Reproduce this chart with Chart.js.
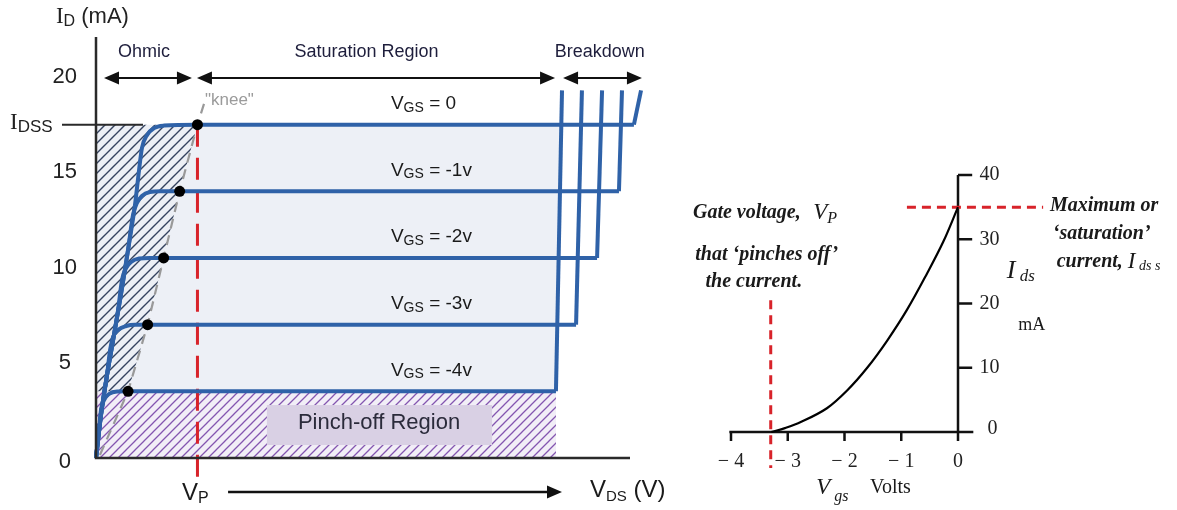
<!DOCTYPE html>
<html>
<head>
<meta charset="utf-8">
<title>JFET characteristics</title>
<script src="https://cdn.jsdelivr.net/npm/chart.js@4.4.1/dist/chart.umd.min.js"></script>
<style>
  html, body { margin: 0; padding: 0; background: #fff; }
  #wrap { position: relative; width: 1177px; height: 510px; overflow: hidden; }
  #drain    { position: absolute; left: 0;     top: 0; }
  #transfer { position: absolute; left: 680px; top: 0; }
</style>
</head>
<body>
<div id="wrap">
  <canvas id="drain" width="680" height="510"></canvas>
  <canvas id="transfer" width="497" height="510"></canvas>
</div>
<script>
// ---- drain characteristics (left): V_DS in volts, I_D in mA ----
const idTicks   = [0, 5, 10, 15, 20];
const vgsNames  = ['0', '-1v', '-2v', '-3v', '-4v'];
const satLevels = [17.5, 14, 10.5, 7, 3.5];
const kneeX     = [5.7, 4.7, 3.8, 2.9, 1.8];
const breakX    = [30.22, 29.38, 28.15, 26.97, 25.84];
const breakTopX = [30.62, 29.55, 28.43, 27.3, 26.18];
const breakTopY = 19.3;
const IDSS = 17.5;
const VP   = 5.7;

// rising (ohmic) part of each curve, [V_DS, I_D]
const ohmicPts = [
    [[0,0],[0.28,2.26],[0.62,4.36],[0.96,6.19],[1.35,8.29],[1.80,10.92],[2.19,13.28],[2.42,15.12],[2.58,16.27],[2.87,16.96],[3.26,17.32],[3.82,17.45]],
    [[0,0],[0.28,2.26],[0.62,4.36],[0.96,6.19],[1.35,8.29],[1.80,10.92],[2.08,12.76],[2.30,13.39],[2.58,13.75],[3.03,13.96],[3.6,14.0]],
    [[0,0],[0.28,2.26],[0.62,4.36],[0.96,6.19],[1.24,7.77],[1.46,9.34],[1.69,9.97],[1.97,10.29],[2.42,10.47],[3.03,10.5]],
    [[0,0],[0.28,2.26],[0.62,4.36],[0.79,5.67],[0.96,6.35],[1.24,6.72],[1.69,6.93],[2.19,7.0]],
    [[0,0],[0.17,1.47],[0.28,2.52],[0.45,3.04],[0.73,3.36],[1.18,3.49]]
];

// dashed line through the knee dots
const kneeLineX = [0.22, 1.8, 2.9, 3.8, 4.7, 5.7, 6.07];
const kneeLineY = [0.16, 3.5, 7, 10.5, 14, 17.5, 18.6];

// ---- transfer characteristic (right): V_gs in volts, I_ds in mA ----
const vgsVals       = [-3.29, -3.05, -2.78, -2.31, -1.95, -1.60, -1.25, -0.90, -0.55, -0.26, 0];
const idsVals       = [0, 0.6, 1.5, 3.7, 6.5, 10.0, 14.2, 19.0, 24.6, 29.6, 35];
const vgsTicks      = [-4, -3, -2, -1, 0];
const vgsTickLabels = ['\u2212 4', '\u2212 3', '\u2212 2', '\u2212 1', '0'];
const idsTicks      = [0, 10, 20, 30, 40];
const IDSS_R = 35;
const VP_R   = -3.3;

const SANS  = "'Liberation Sans', Arial, sans-serif";
const SERIF = "'Liberation Serif', 'Times New Roman', serif";
const BLUE  = '#2f62a8';
const RED   = '#d8232a';

function hatch(bg, fg, size, lw) {
    const c = document.createElement('canvas');
    c.width = c.height = size;
    const g = c.getContext('2d');
    g.fillStyle = bg;
    g.fillRect(0, 0, size, size);
    g.strokeStyle = fg;
    g.lineWidth = lw;
    g.beginPath();
    g.moveTo(-1, size + 1); g.lineTo(size + 1, -1);
    g.moveTo(-1, 1);        g.lineTo(1, -1);
    g.moveTo(size - 1, size + 1); g.lineTo(size + 1, size - 1);
    g.stroke();
    return g.createPattern(c, 'repeat');
}

// text made of runs: [text, font, dy]
function txt(ctx, x, y, parts, align) {
    ctx.textBaseline = 'middle';
    ctx.textAlign = 'left';
    let w = 0;
    parts.forEach(p => { ctx.font = p[1]; w += ctx.measureText(p[0]).width; });
    let cx = align === 'center' ? x - w / 2 : align === 'right' ? x - w : x;
    parts.forEach(p => {
        ctx.font = p[1];
        ctx.fillText(p[0], cx, y + (p[2] || 0));
        cx += ctx.measureText(p[0]).width;
    });
}

function head(ctx, x, y, dir) {
    ctx.beginPath();
    ctx.moveTo(x, y);
    ctx.lineTo(x - dir * 15, y - 6.5);
    ctx.lineTo(x - dir * 15, y + 6.5);
    ctx.closePath();
    ctx.fill();
}

function arrow(ctx, x1, x2, y, both) {
    ctx.beginPath();
    ctx.moveTo(both ? x1 + 10 : x1, y);
    ctx.lineTo(x2 - 10, y);
    ctx.stroke();
    head(ctx, x2, y, 1);
    if (both) head(ctx, x1, y, -1);
}

const line = (data, color, width, dash, order) => ({
    data, borderColor: color, borderWidth: width, borderDash: dash || [],
    pointRadius: 0, fill: false, clip: false, tension: 0, order
});
const smooth = (data, color, width, order) =>
    Object.assign(line(data, color, width, [], order), {cubicInterpolationMode: 'monotone'});
const area = (data, fillStyle, order) => ({
    data, fill: 'shape', backgroundColor: fillStyle, borderColor: 'rgba(0,0,0,0)',
    borderWidth: 1, pointRadius: 0, clip: false, order
});
const pts = arr => arr.map(([x, y]) => ({x, y}));

// ---------------- left chart ----------------
// ohmic rise + flat saturation part (smooth), then the breakdown kick (straight)
const curves = ohmicPts.map((p, i) => pts(p).concat([
    {x: kneeX[i],  y: satLevels[i]},
    {x: breakX[i], y: satLevels[i]}
]));
const breakdowns = satLevels.map((lv, i) => [
    {x: breakX[i],    y: lv},
    {x: breakTopX[i], y: breakTopY}
]);

const navyHatch   = hatch('#eceff5', '#34425f', 10, 1.4);
const purpleHatch = hatch('#f2eef7', '#8456b0', 9, 1.3);

const kneePoly  = kneeX.map((x, i) => ({x, y: satLevels[i]}));
const ohmicPoly = [{x: 0, y: 3.5}, {x: 0, y: IDSS}].concat(kneePoly);
const satPoly   = [{x: 1.8, y: 3.5}, {x: breakX[4], y: 3.5}, {x: 26.1, y: IDSS}, {x: VP, y: IDSS}].concat(kneePoly.slice(1));
const pinchPoly = pts([[0, 0], [breakX[4], 0], [breakX[4], 3.5], [0, 3.5]]);

const drainNotes = {
    id: 'drainNotes',
    afterDatasetsDraw(chart) {
        const {ctx, scales: {x, y}} = chart;
        const px = v => x.getPixelForValue(v), py = v => y.getPixelForValue(v);
        ctx.save();

        // axes + I_DSS tick
        ctx.strokeStyle = '#2a2a2a';
        ctx.lineWidth = 2.5;
        ctx.beginPath();
        ctx.moveTo(px(0), py(22.1)); ctx.lineTo(px(0), py(0)); ctx.lineTo(px(30), py(0));
        ctx.stroke();
        ctx.lineWidth = 2;
        ctx.beginPath();
        ctx.moveTo(px(-1.91), py(IDSS)); ctx.lineTo(px(2.64), py(IDSS));
        ctx.stroke();

        ctx.fillStyle = '#222';
        idTicks.forEach(v => txt(ctx, px(-1.75), py(v) + (v === 0 ? 4 : 0), [[String(v), `22px ${SANS}`]], 'center'));
        txt(ctx, px(-4.83), py(IDSS) - 2, [['I', `23px ${SERIF}`], ['DSS', `17px ${SANS}`, 5]]);
        txt(ctx, px(-2.25), py(23.15), [['I', `23px ${SERIF}`], ['D', `16px ${SANS}`, 5], [' (mA)', `22px ${SANS}`]]);

        // region arrows along the top
        ctx.fillStyle = '#1e1e3c';
        txt(ctx, px(2.7),  py(21.3), [['Ohmic', `18px ${SANS}`]], 'center');
        txt(ctx, px(15.2), py(21.3), [['Saturation Region', `18px ${SANS}`]], 'center');
        txt(ctx, px(28.3), py(21.3), [['Breakdown', `18px ${SANS}`]], 'center');
        ctx.fillStyle = '#111';
        ctx.strokeStyle = '#111';
        ctx.lineWidth = 2;
        arrow(ctx, px(0.45), px(5.39), py(19.95), true);
        arrow(ctx, px(5.67), px(25.79), py(19.95), true);
        arrow(ctx, px(26.24), px(30.67), py(19.95), true);

        ctx.fillStyle = '#9b9b9b';
        txt(ctx, px(6.12), py(18.8), [['"knee"', `17px ${SANS}`]]);

        ctx.fillStyle = '#1a1a1a';
        vgsNames.forEach((n, i) => txt(ctx, px(16.57), py(satLevels[i] + 1.1),
            [['V', `19px ${SANS}`], ['GS', `14px ${SANS}`, 4], [' = ' + n, `19px ${SANS}`]]));

        // pinch-off label
        ctx.fillStyle = '#d9d0e4';
        ctx.fillRect(px(9.6), py(2.78), px(22.25) - px(9.6), py(0.68) - py(2.78));
        ctx.fillStyle = '#2b2b3b';
        txt(ctx, px(15.9), py(1.84), [['Pinch-off Region', `22px ${SANS}`]], 'center');

        // bottom: V_P, arrow, V_DS
        ctx.fillStyle = '#1a1a1a';
        txt(ctx, px(4.83), py(-1.84), [['V', `24px ${SANS}`], ['P', `16px ${SANS}`, 6]]);
        ctx.fillStyle = '#111';
        ctx.lineWidth = 2.5;
        arrow(ctx, px(7.42), px(26.18), py(-1.78), false);
        ctx.fillStyle = '#1a1a1a';
        txt(ctx, px(27.75), py(-1.7), [['V', `24px ${SANS}`], ['DS', `15px ${SANS}`, 6], [' (V)', `24px ${SANS}`]]);
        ctx.restore();
    }
};

new Chart(document.getElementById('drain'), {
    type: 'line',
    data: {
        datasets: [
            Object.assign(line(kneePoly, '#000', 1, [], 0), {showLine: false, pointRadius: 5.5, pointBackgroundColor: '#000', pointBorderWidth: 0}),
            ...curves.map(c => smooth(c, BLUE, 4, 1)),
            ...breakdowns.map(b => line(b, BLUE, 4, [], 1)),
            line([{x: VP, y: IDSS}, {x: VP, y: -1.0}], RED, 3, [22, 11], 2),
            line(kneeLineX.map((x, i) => ({x, y: kneeLineY[i]})), '#999', 2.2, [10, 7], 3),
            area(ohmicPoly, navyHatch, 8),
            area(satPoly, '#edf0f6', 9),
            area(pinchPoly, purpleHatch, 10)
        ]
    },
    options: {
        responsive: false,
        animation: false,
        events: [],
        layout: { padding: { left: 96, right: 14.4, top: 38.9, bottom: 52 } },
        scales: {
            x: { type: 'linear', min: 0, max: 32, display: false },
            y: { type: 'linear', min: 0, max: 22, display: false }
        },
        plugins: { legend: { display: false }, tooltip: { enabled: false } }
    },
    plugins: [drainNotes]
});

// ---------------- right chart ----------------
const transferAxes = {
    id: 'transferAxes',
    beforeDatasetsDraw(chart) {
        const {ctx, scales: {x, y}} = chart;
        const px = v => x.getPixelForValue(v), py = v => y.getPixelForValue(v);
        ctx.save();
        ctx.strokeStyle = '#111';
        ctx.lineWidth = 2.5;
        ctx.beginPath();
        ctx.moveTo(px(0), py(40)); ctx.lineTo(px(0), py(0));
        ctx.moveTo(px(-4.03), py(0)); ctx.lineTo(px(0.27), py(0));
        idsTicks.slice(1).forEach(v => { ctx.moveTo(px(0), py(v)); ctx.lineTo(px(0.25), py(v)); });
        vgsTicks.forEach(v => { ctx.moveTo(px(v), py(0)); ctx.lineTo(px(v), py(-1.4)); });
        ctx.stroke();
        ctx.restore();
    },
    afterDatasetsDraw(chart) {
        const {ctx, scales: {x, y}} = chart;
        const px = v => x.getPixelForValue(v), py = v => y.getPixelForValue(v);
        ctx.save();
        ctx.fillStyle = '#222';
        idsTicks.forEach(v => txt(ctx, v === 0 ? px(0.52) : px(0.38), py(v) - (v === 0 ? 3 : 0), [[String(v), `20px ${SERIF}`]]));
        vgsTicks.forEach((v, i) => txt(ctx, px(v), py(-4.7), [[vgsTickLabels[i], `20px ${SERIF}`]], 'center'));

        const BI = `italic bold 20px ${SERIF}`;
        ctx.fillStyle = '#1a1a1a';
        txt(ctx, px(-4.67), py(34.1), [['Gate voltage,', BI]]);
        txt(ctx, px(-2.55), py(34.1), [['V', `italic 23px ${SERIF}`], ['P', `italic 16px ${SERIF}`, 6]]);
        txt(ctx, px(-4.63), py(27.5), [['that \u2018pinches off\u2019', BI]]);
        txt(ctx, px(-4.45), py(23.3), [['the current.', BI]]);
        txt(ctx, px(1.62), py(35.2), [['Maximum or', BI]]);
        txt(ctx, px(1.67), py(30.8), [['\u2018saturation\u2019', BI]]);
        txt(ctx, px(1.74), py(26.5), [['current, ', BI], ['I', `italic 23px ${SERIF}`], [' ds s', `italic 14px ${SERIF}`, 5]]);

        txt(ctx, px(0.86), py(25.1), [['I', `italic 26px ${SERIF}`], [' ds', `italic 17px ${SERIF}`, 6]]);
        txt(ctx, px(1.06), py(16.6), [['mA', `18px ${SERIF}`]]);
        txt(ctx, px(-2.5), py(-8.7), [['V', `italic 23px ${SERIF}`], [' gs', `italic 16px ${SERIF}`, 9]]);
        txt(ctx, px(-1.55), py(-8.7), [['Volts', `20px ${SERIF}`]]);
        ctx.restore();
    }
};

new Chart(document.getElementById('transfer'), {
    type: 'line',
    data: {
        datasets: [
            Object.assign(line(vgsVals.map((v, i) => ({x: v, y: idsVals[i]})), '#000', 2.2, [], 0), {tension: 0.35}),
            line([{x: -0.9, y: IDSS_R}, {x: 1.5, y: IDSS_R}], RED, 3, [9, 6], 1),
            line([{x: VP_R, y: 20.5}, {x: VP_R, y: -5.6}], RED, 3, [9, 6], 1)
        ]
    },
    options: {
        responsive: false,
        animation: false,
        events: [],
        layout: { padding: { left: 51, right: 219, top: 175, bottom: 78 } },
        scales: {
            x: { type: 'linear', min: -4, max: 0, display: false },
            y: { type: 'linear', min: 0, max: 40, display: false }
        },
        plugins: { legend: { display: false }, tooltip: { enabled: false } }
    },
    plugins: [transferAxes]
});
</script>
</body>
</html>
